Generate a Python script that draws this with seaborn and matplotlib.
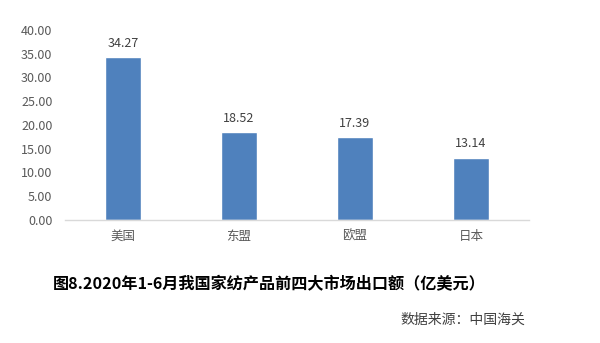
import matplotlib
matplotlib.use("Agg")
import matplotlib.pyplot as plt
import seaborn as sns
import pandas as pd

categories = ["美国", "东盟", "欧盟", "日本"]
values = [34.27, 18.52, 17.39, 13.14]
yticks = [0, 5, 10, 15, 20, 25, 30, 35, 40]
title = "图8.2020年1-6月我国家纺产品前四大市场出口额（亿美元）"
source = "数据来源：中国海关"

sns.set_theme(style="white")
plt.rcParams["font.family"] = ["Noto Sans CJK SC", "DejaVu Sans"]

df = pd.DataFrame({"cat": categories, "val": values})

fig = plt.figure(figsize=(6, 3.43), dpi=100)
ax = fig.add_axes([0.1083, 0.3586, 0.7733, 0.554])
sns.barplot(data=df, x="cat", y="val", color="#4F81BD", saturation=1, width=0.31, ax=ax)
ax.set_ylim(0, 40)
ax.set_xlim(-0.5, 3.5)
ax.set_yticks(yticks)
ax.set_yticklabels([f"{v:.2f}" for v in yticks], fontsize=9, color="#595959")
ax.set_xlabel("")
ax.set_ylabel("")
ax.tick_params(axis="x", labelsize=9, colors="#595959", length=0, pad=7)
ax.tick_params(axis="y", length=0, pad=9)
for s in ["top", "right", "left"]:
    ax.spines[s].set_visible(False)
ax.spines["bottom"].set_color("#D9D9D9")
ax.spines["bottom"].set_linewidth(1)
for i, v in enumerate(values):
    ax.text(i, v + 1.5, f"{v:.2f}", ha="center", va="bottom", fontsize=9, color="#404040")

fig.text(0.088, 0.172, title, fontsize=11.6, fontweight="bold", color="black", va="center", ha="left")
fig.text(0.875, 0.067, source, fontsize=10, color="#404040", va="center", ha="right")

fig.savefig("out.png", dpi=100)
